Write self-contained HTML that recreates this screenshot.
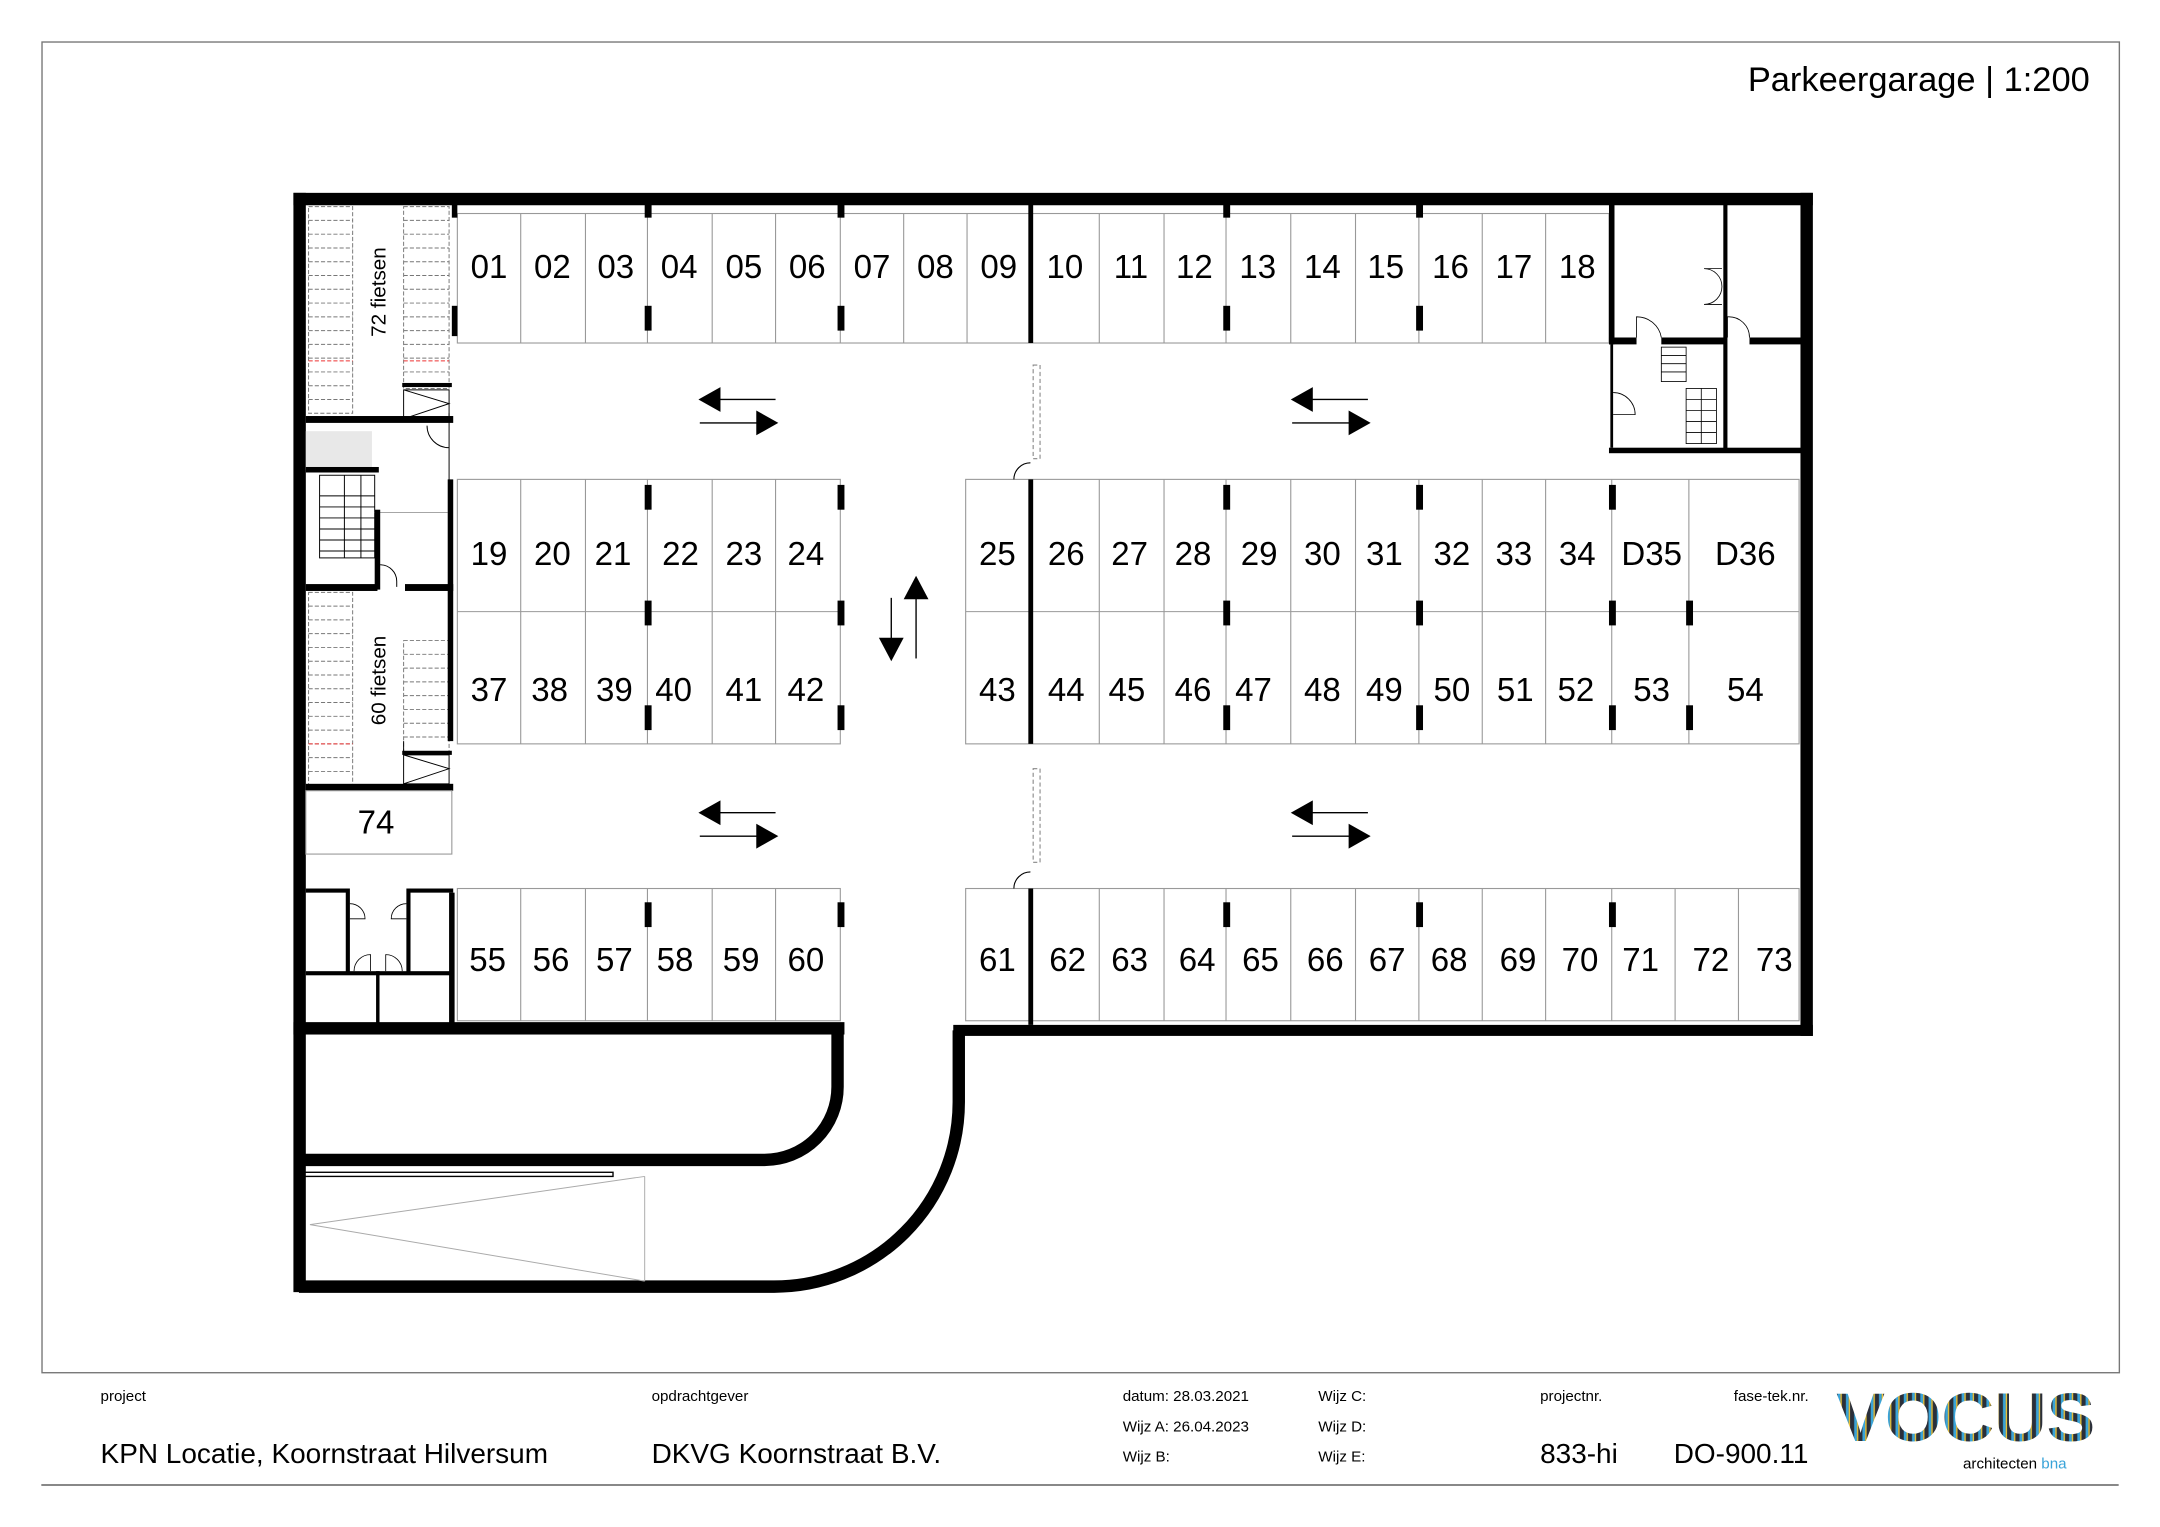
<!DOCTYPE html>
<html><head><meta charset="utf-8"><style>
html,body{margin:0;padding:0;background:#fff}
svg{display:block}
text{font-family:"Liberation Sans",Arial,sans-serif}
</style></head><body>
<svg width="2160" height="1527" viewBox="0 0 1568 1108.5" preserveAspectRatio="none" xmlns="http://www.w3.org/2000/svg">
<defs>
<pattern id="st" width="6" height="10" patternUnits="userSpaceOnUse">
<rect width="6" height="10" fill="#2a2f3a"/><rect x="2" width="2" height="10" fill="#39a3d8"/><rect x="4" width="1" height="10" fill="#e9c33a"/>
</pattern>
</defs>
<rect width="1568" height="1109" fill="#fff"/>
<rect x="30.5" y="30.5" width="1508" height="966" fill="none" stroke="#777" stroke-width="1"/>
<line x1="30" y1="1078" x2="1538" y2="1078" stroke="#888" stroke-width="1.5"/>
<text x="1517" y="66" font-size="25" text-anchor="end">Parkeergarage | 1:200</text>

<g fill="none" stroke="#999" stroke-width="0.8">
<rect x="332" y="155" width="836" height="94"/>
<rect x="332" y="348" width="278" height="192"/><line x1="332" y1="444" x2="610" y2="444"/>
<rect x="701" y="348" width="605" height="192"/><line x1="701" y1="444" x2="1306" y2="444"/>
<rect x="332" y="645" width="278" height="96"/>
<rect x="701" y="645" width="605" height="96"/>
<path d="M378 155V249M425 155V249M470 155V249M517 155V249M563 155V249M610 155V249M656 155V249M702 155V249M798 155V249M845 155V249M890 155V249M937 155V249M984 155V249M1030 155V249M1076 155V249M1122 155V249"/>
<path d="M378 348V540M425 348V540M470 348V540M517 348V540M563 348V540"/>
<path d="M798 348V540M845 348V540M890 348V540M937 348V540M984 348V540M1030 348V540M1076 348V540M1122 348V540M1170 348V540M1226 348V540"/>
<path d="M378 645V741M425 645V741M470 645V741M517 645V741M563 645V741"/>
<path d="M798 645V741M845 645V741M890 645V741M937 645V741M984 645V741M1030 645V741M1076 645V741M1122 645V741M1170 645V741M1216 645V741M1262 645V741"/>
</g>
<g fill="#000">
<rect x="468" y="148" width="5" height="10"/><rect x="468" y="222" width="5" height="18"/>
<rect x="608" y="148" width="5" height="10"/><rect x="608" y="222" width="5" height="18"/>
<rect x="888" y="148" width="5" height="10"/><rect x="888" y="222" width="5" height="18"/>
<rect x="1028" y="148" width="5" height="10"/><rect x="1028" y="222" width="5" height="18"/>
<rect x="468" y="352" width="5" height="18"/><rect x="468" y="436" width="5" height="18"/><rect x="468" y="512" width="5" height="18"/>
<rect x="608" y="352" width="5" height="18"/><rect x="608" y="436" width="5" height="18"/><rect x="608" y="512" width="5" height="18"/>
<rect x="888" y="352" width="5" height="18"/><rect x="888" y="436" width="5" height="18"/><rect x="888" y="512" width="5" height="18"/>
<rect x="1028" y="352" width="5" height="18"/><rect x="1028" y="436" width="5" height="18"/><rect x="1028" y="512" width="5" height="18"/>
<rect x="1168" y="352" width="5" height="18"/><rect x="1168" y="436" width="5" height="18"/><rect x="1168" y="512" width="5" height="18"/>
<rect x="1224" y="436" width="5" height="18"/><rect x="1224" y="512" width="5" height="18"/>
<rect x="468" y="655" width="5" height="18"/><rect x="608" y="655" width="5" height="18"/>
<rect x="888" y="655" width="5" height="18"/><rect x="1028" y="655" width="5" height="18"/><rect x="1168" y="655" width="5" height="18"/>
<rect x="746.5" y="148" width="3.5" height="101"/>
<rect x="746.5" y="348" width="3.5" height="192"/>
<rect x="746.5" y="645" width="3.5" height="99"/>
<rect x="328" y="148" width="4" height="10"/><rect x="328" y="222" width="4" height="22"/>
</g>
<g fill="none" stroke="#888" stroke-width="0.8" stroke-dasharray="3,2">
<rect x="750" y="265" width="5" height="68"/><rect x="750" y="558" width="5" height="68"/>
</g>
<g fill="none" stroke="#000" stroke-width="0.8">
<path d="M736 348A12 12 0 0 1 748 336"/><path d="M736 645A12 12 0 0 1 748 633"/>
</g>

<g font-size="24" text-anchor="middle">
<text x="355" y="202">01</text><text x="401" y="202">02</text><text x="447" y="202">03</text><text x="493" y="202">04</text><text x="540" y="202">05</text><text x="586" y="202">06</text><text x="633" y="202">07</text><text x="679" y="202">08</text><text x="725" y="202">09</text><text x="773" y="202">10</text><text x="821" y="202">11</text><text x="867" y="202">12</text><text x="913" y="202">13</text><text x="960" y="202">14</text><text x="1006" y="202">15</text><text x="1053" y="202">16</text><text x="1099" y="202">17</text><text x="1145" y="202">18</text>
<text x="355" y="410">19</text><text x="401" y="410">20</text><text x="445" y="410">21</text><text x="494" y="410">22</text><text x="540" y="410">23</text><text x="585" y="410">24</text>
<text x="724" y="410">25</text><text x="774" y="410">26</text><text x="820" y="410">27</text><text x="866" y="410">28</text><text x="914" y="410">29</text><text x="960" y="410">30</text><text x="1005" y="410">31</text><text x="1054" y="410">32</text><text x="1099" y="410">33</text><text x="1145" y="410">34</text><text x="1199" y="410">D35</text><text x="1267" y="410">D36</text>
<text x="355" y="509">37</text><text x="399" y="509">38</text><text x="446" y="509">39</text><text x="489" y="509">40</text><text x="540" y="509">41</text><text x="585" y="509">42</text>
<text x="724" y="509">43</text><text x="774" y="509">44</text><text x="818" y="509">45</text><text x="866" y="509">46</text><text x="910" y="509">47</text><text x="960" y="509">48</text><text x="1005" y="509">49</text><text x="1054" y="509">50</text><text x="1100" y="509">51</text><text x="1144" y="509">52</text><text x="1199" y="509">53</text><text x="1267" y="509">54</text>
<text x="273" y="605">74</text>
<text x="354" y="705">55</text><text x="400" y="705">56</text><text x="446" y="705">57</text><text x="490" y="705">58</text><text x="538" y="705">59</text><text x="585" y="705">60</text>
<text x="724" y="705">61</text><text x="775" y="705">62</text><text x="820" y="705">63</text><text x="869" y="705">64</text><text x="915" y="705">65</text><text x="962" y="705">66</text><text x="1007" y="705">67</text><text x="1052" y="705">68</text><text x="1102" y="705">69</text><text x="1147" y="705">70</text><text x="1191" y="705">71</text><text x="1242" y="705">72</text><text x="1288" y="705">73</text>
</g>

<g id="arr">
<line x1="520" y1="290" x2="563" y2="290" stroke="#000" stroke-width="1"/><polygon points="507,290 523,281 523,299"/>
<line x1="508" y1="307" x2="550" y2="307" stroke="#000" stroke-width="1"/><polygon points="565,307 549,298 549,316"/>
</g>
<use href="#arr" x="430"/><use href="#arr" y="300"/><use href="#arr" x="430" y="300"/>
<line x1="647" y1="434" x2="647" y2="466" stroke="#000" stroke-width="1"/><polygon points="647,480 638,463 656,463"/>
<line x1="665" y1="434" x2="665" y2="478" stroke="#000" stroke-width="1"/><polygon points="665,418 656,435 674,435"/>

<g fill="#000">
<rect x="213" y="140" width="1103" height="9"/>
<rect x="1307" y="140" width="9" height="612"/>
<rect x="692" y="744" width="624" height="8"/>
<rect x="213" y="140" width="9" height="798"/>
<rect x="213" y="742" width="400" height="9"/>
</g>
<path d="M217 842H555A53 53 0 0 0 608 789V746" fill="none" stroke="#000" stroke-width="9"/>
<path d="M696 748V800A134 134 0 0 1 562 934H217" fill="none" stroke="#000" stroke-width="9"/>
<rect x="221" y="851" width="224" height="3" fill="none" stroke="#000" stroke-width="1"/>
<path d="M468 854V930M468 854L225 889L468 930" fill="none" stroke="#aaa" stroke-width="0.7"/>

<g fill="none" stroke="#777" stroke-width="0.7" stroke-dasharray="3,1.5">
<rect x="224" y="150" width="32" height="150"/><rect x="293" y="150" width="33" height="132"/>
<rect x="224" y="430" width="32" height="140"/><rect x="293" y="465" width="33" height="82"/>
<path d="M224 160H256M224 170H256M224 180H256M224 190H256M224 200H256M224 210H256M224 220H256M224 230H256M224 240H256M224 250H256M224 260H256M224 270H256M224 280H256M224 290H256"/>
<path d="M293 160H326M293 170H326M293 180H326M293 190H326M293 200H326M293 210H326M293 220H326M293 230H326M293 240H326M293 250H326M293 260H326M293 270H326"/>
<path d="M224 440H256M224 450H256M224 460H256M224 470H256M224 480H256M224 490H256M224 500H256M224 510H256M224 520H256M224 530H256M224 540H256M224 550H256M224 560H256"/>
<path d="M293 475H326M293 485H326M293 495H326M293 505H326M293 515H326M293 525H326M293 535H326"/>
</g>
<path d="M224 262H256M293 262H326M224 540H256" stroke="#e33" stroke-width="0.7" stroke-dasharray="3,1.5" fill="none"/>
<text transform="translate(280,212) rotate(-90)" font-size="15" text-anchor="middle">72 fietsen</text>
<text transform="translate(280,494) rotate(-90)" font-size="15" text-anchor="middle">60 fietsen</text>
<g fill="none" stroke="#000" stroke-width="0.7">
<path d="M293 283H326V304H293ZM293 283L326 293L293 304"/>
<path d="M293 548H326V569H293ZM293 548L326 558L293 569"/>
<path d="M310 309A16 16 0 0 0 326 325"/>
<path d="M276 410A12 12 0 0 1 288 422V426"/>
<rect x="232" y="345" width="40" height="60"/>
<path d="M232 360H272M232 368H272M232 376H272M232 384H272M232 392H272M232 400H272M250 345V405M262 345V405"/>
<line x1="272" y1="372" x2="325" y2="372" stroke="#999"/>
<path d="M293 538V548M326 300V372"/>
</g>
<rect x="222" y="313" width="48" height="28" fill="#e8e8e8"/>
<g fill="#000">
<rect x="222" y="302" width="107" height="5"/>
<rect x="222" y="339" width="53" height="4"/>
<rect x="272" y="370" width="4" height="58"/>
<rect x="222" y="424" width="52" height="5"/><rect x="294" y="424" width="35" height="5"/>
<rect x="325" y="348" width="4" height="190"/>
<rect x="292" y="278" width="36" height="3"/><rect x="292" y="545" width="36" height="3"/>
<rect x="222" y="569" width="107" height="5"/>
<rect x="222" y="645" width="31" height="3"/><rect x="297" y="645" width="32" height="3"/>
<rect x="251" y="645" width="3" height="62"/><rect x="295" y="645" width="3" height="62"/>
<rect x="222" y="705" width="107" height="3"/>
<rect x="273" y="705" width="2.5" height="38"/>
<rect x="326" y="648" width="4" height="95"/>
</g>
<rect x="222" y="574" width="106" height="46" fill="none" stroke="#999" stroke-width="0.8"/>
<g fill="none" stroke="#000" stroke-width="0.6">
<path d="M254 667H265A11 11 0 0 0 254 656M295 667H284A11 11 0 0 1 295 656M257 705A12 12 0 0 1 269 693V705M292 705A12 12 0 0 0 280 693V705"/>
</g>

<g fill="#000">
<rect x="1168" y="148" width="4" height="102"/>
<rect x="1251" y="148" width="3" height="180"/>
<rect x="1168" y="245" width="20" height="5"/><rect x="1206" y="245" width="46" height="5"/><rect x="1270" y="245" width="38" height="5"/>
<rect x="1168" y="325" width="140" height="4"/>
<rect x="1169" y="250" width="2" height="75"/>
</g>
<g fill="none" stroke="#000" stroke-width="0.6">
<path d="M1188 245V230A18 18 0 0 1 1206 245"/>
<path d="M1254 245V230A15 15 0 0 1 1270 245"/>
<path d="M1250 195H1237A13 13 0 0 1 1250 208M1250 221H1237A13 13 0 0 0 1250 208"/>
<path d="M1171 285A16 16 0 0 1 1187 301H1171"/>
<rect x="1206" y="252" width="18" height="25"/>
<path d="M1206 258H1224M1206 264H1224M1206 270H1224"/>
<rect x="1224" y="282" width="22" height="40"/>
<path d="M1224 290H1246M1224 298H1246M1224 306H1246M1224 314H1246M1235 282V322"/>
</g>

<g font-size="11">
<text x="73" y="1017">project</text>
<text x="473" y="1017">opdrachtgever</text>
<text x="815" y="1017">datum:  28.03.2021</text>
<text x="815" y="1039">Wijz A:  26.04.2023</text>
<text x="815" y="1061">Wijz B:</text>
<text x="957" y="1017">Wijz C:</text>
<text x="957" y="1039">Wijz D:</text>
<text x="957" y="1061">Wijz E:</text>
<text x="1118" y="1017">projectnr.</text>
<text x="1313" y="1017" text-anchor="end">fase-tek.nr.</text>
</g>
<g font-size="20.3">
<text x="73" y="1062">KPN Locatie, Koornstraat Hilversum</text>
<text x="473" y="1062">DKVG Koornstraat B.V.</text>
<text x="1118" y="1062">833-hi</text>
<text x="1215" y="1062">DO-900.11</text>
</g>
<text x="1333" y="1046" font-size="50" font-weight="bold" fill="url(#st)" textLength="188" lengthAdjust="spacingAndGlyphs">VOCUS</text>
<text x="1425" y="1066" font-size="11">architecten <tspan fill="#39a3d8">bna</tspan></text>
</svg>
</body></html>
